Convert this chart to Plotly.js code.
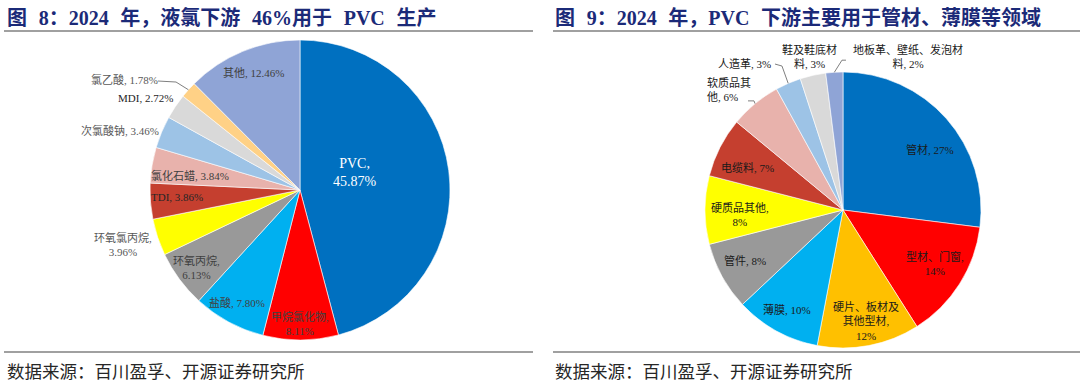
<!DOCTYPE html>
<html><head><meta charset="utf-8">
<script src="https://cdn.plot.ly/plotly-3.0.1.min.js"></script>
<style>html,body{margin:0;padding:0;background:#fff}#chart{width:1080px;height:383px}</style>
</head><body><div id="chart"></div>
<script>
// ---------- DATA ----------
const leftCategories = ["PVC","甲烷氯化物","盐酸","环氧丙烷","环氧氯丙烷","TDI","氯化石蜡","次氯酸钠","MDI","氯乙酸","其他"];
const leftValues = [45.87, 8.11, 7.80, 6.13, 3.96, 3.86, 3.84, 3.46, 2.72, 1.78, 12.46];
const rightCategories = ["管材","型材、门窗","硬片、板材及其他型材","薄膜","管件","硬质品其他","电缆料","软质品其他","人造革","鞋及鞋底材料","地板革、壁纸、发泡材料"];
const rightValues = [27, 14, 12, 10, 8, 8, 7, 6, 3, 3, 2];
const leftTitle = "图 8：2024 年，液氯下游 46%用于 PVC 生产";
const rightTitle = "图 9：2024 年，PVC 下游主要用于管材、薄膜等领域";
const sourceText = "数据来源：百川盈孚、开源证券研究所";

// ---------- STYLE / LAYOUT CONFIG ----------
const W = 1080, H = 383;
const leftColors = ["#0070C0","#FF0000","#00B0F0","#999999","#FFFF00","#C53F2F","#E8B2AC","#9DC3E6","#D9D9D9","#FFD186","#8FA4D6"];
const rightColors = ["#0070C0","#FF0000","#FFC000","#00B0F0","#999999","#FFFF00","#C53F2F","#E8B2AC","#9DC3E6","#D9D9D9","#8FA4D6"];
const leftGeom = {cx: 300, cy: 190, r: 150};
const rightGeom = {cx: 843, cy: 210, r: 138};
// label placement: radius factor, angle nudge (deg), wrapping, color, size, align
const leftLabelCfg = [
  {rf:0.384, dt:-9.8, comma:true, color:"#ffffff", size:14},
  {rf:0.887, dt:0.3, comma:true},
  {rf:0.857, dt:1.0},
  {rf:0.862, dt:-0.5, comma:true},
  {rf:1.234, dt:1.4, comma:true, color:"#595959"},
  {rf:0.821, dt:1.0, color:"#262626"},
  {rf:0.739, dt:-2.2},
  {rf:1.265, dt:-4.3, color:"#595959"},
  {rf:1.20, dt:-3.1, color:"#262626"},
  {rf:1.387, dt:-9.7, color:"#595959", leader:[52,3,34,2]},
  {rf:0.84, dt:0.6}
];
const rightLabelCfg = [
  {rf:0.766, dt:6.8},
  {rf:0.773, dt:-2.0, comma:true},
  {rf:0.822, dt:-0.9, comma:true, at:[6]},
  {rf:0.83, dt:0.4},
  {rf:0.80, dt:1.3},
  {rf:0.747, dt:-2.8, comma:true},
  {rf:0.762, dt:-2.9},
  {rf:1.20, dt:-3.9, at:[4], align:"left", leader:[25,11,19,11]},
  {rf:1.28, dt:-10.3, leader:[37,3,30,1]},
  {rf:1.141, dt:0.5, at:[5]},
  {rf:1.21, dt:26.5, at:[10], leader:[-66,4,-62,4]}
];
const labelFont = "'Liberation Serif', 'Noto Sans CJK SC', serif";
const titleFont = "'Liberation Serif', 'Noto Sans CJK SC', serif";
const titleColor = "#1b2a78";
const lineColor = "#808080";

const px = x => x / W;
const py = y => 1 - y / H;

function domainOf(g){
  return {x:[px(g.cx - g.r), px(g.cx + g.r)], y:[py(g.cy + g.r), py(g.cy - g.r)]};
}
function midAngles(vals){
  const tot = vals.reduce((a,b)=>a+b,0);
  let c = 0; const out = [];
  vals.forEach(v => { out.push((c + v/2)/tot*360); c += v; });
  return out;
}
function labelText(name, valStr, cfg){
  let s = name + ", " + valStr;
  if (cfg.at){
    let idx = cfg.at.slice().sort((a,b)=>b-a);
    idx.forEach(i => { s = s.slice(0,i) + "\u0001" + s.slice(i); });
  }
  if (cfg.comma) s = s.replace(", ", ",\u0001");
  return s.split("\u0001").map(t=>t.trim()).join("<br>");
}
// display spacing for titles (slightly wider gaps as in the reference typesetting)
function spaced(t){
  return t.replace(/ /g, "\u00a0\u00a0\u200a");
}
const annotations = [], shapes = [];
function addLabels(cats, vals, fmt, cfgs, g, defColor){
  const mids = midAngles(vals);
  cats.forEach((c,i) => {
    const cfg = cfgs[i];
    const th = (mids[i] + cfg.dt) * Math.PI/180;
    const x = g.cx + cfg.rf*g.r*Math.sin(th);
    const y = g.cy - cfg.rf*g.r*Math.cos(th);
    annotations.push({xref:"paper", yref:"paper", x:px(x), y:py(y), xanchor:"center", yanchor:"middle",
      showarrow:false, align: cfg.align || "center", text: labelText(c, fmt(vals[i]), cfg),
      font:{family:labelFont, size:cfg.size||11, color:cfg.color||defColor}});
    if (cfg.leader){
      const m = mids[i]*Math.PI/180;
      const ex = g.cx + g.r*Math.sin(m), ey = g.cy - g.r*Math.cos(m);
      const [x1,y1,x2,y2] = cfg.leader;
      shapes.push({type:"path", xref:"paper", yref:"paper",
        path:`M ${px(ex)} ${py(ey)} L ${px(x+x1)} ${py(y+y1)} L ${px(x+x2)} ${py(y+y2)}`,
        line:{color:"#7f7f7f", width:1}});
    }
  });
}
addLabels(leftCategories, leftValues, v=>v.toFixed(2)+"%", leftLabelCfg, leftGeom, "#404040");
addLabels(rightCategories, rightValues, v=>v+"%", rightLabelCfg, rightGeom, "#1a1a1a");

// titles, source, rules
[[5, leftTitle],[553, rightTitle]].forEach(([x,t]) => {
  annotations.push({xref:"paper", yref:"paper", x:px(x), y:py(17), xanchor:"left", yanchor:"middle", showarrow:false,
    text:"<b>"+spaced(t)+"</b>", font:{family:titleFont, size:20, color:titleColor}});
});
[5, 553].forEach(x => {
  annotations.push({xref:"paper", yref:"paper", x:px(x), y:py(370), xanchor:"left", yanchor:"middle", showarrow:false,
    text:sourceText, font:{family:"'Noto Sans CJK SC', sans-serif", size:17.5, color:"#262626"}});
});
[[4,533],[553,1080]].forEach(([a,b]) => {
  [31, 352].forEach(y => shapes.push({type:"line", xref:"paper", yref:"paper", x0:px(a), x1:px(b), y0:py(y), y1:py(y),
    line:{color:lineColor, width:1.5}}));
});

const common = {type:"pie", sort:false, direction:"clockwise", rotation:0, textinfo:"none", hoverinfo:"none",
  showlegend:false};
const data = [
  Object.assign({}, common, {labels:leftCategories, values:leftValues, domain:domainOf(leftGeom),
    marker:{colors:leftColors, line:{color:"#ffffff", width:0.6}}}),
  Object.assign({}, common, {labels:rightCategories, values:rightValues, domain:domainOf(rightGeom),
    marker:{colors:rightColors, line:{color:"#ffffff", width:0.6}}})
];
const layout = {width:W, height:H, margin:{l:0,r:0,t:0,b:0}, paper_bgcolor:"#fff", plot_bgcolor:"#fff",
  showlegend:false, annotations, shapes};
Plotly.newPlot("chart", data, layout, {staticPlot:true, displayModeBar:false});
</script>
</body></html>
